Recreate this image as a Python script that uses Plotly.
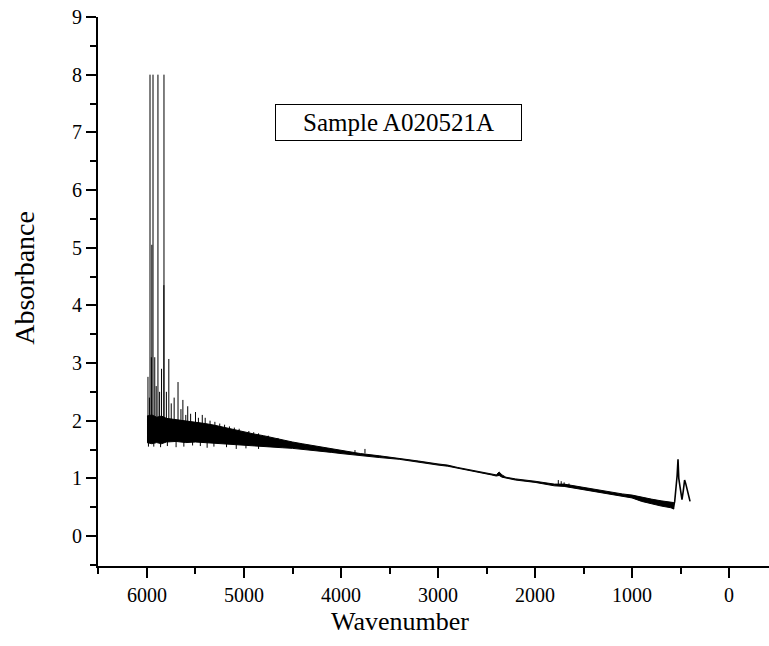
import plotly.graph_objects as go

# ---- data ----
band_wn = [6000, 5950, 5900, 5850, 5800, 5700, 5600, 5500, 5400, 5300,
           5200, 5100, 5000, 4900, 4800, 4700, 4600, 4500, 4400, 4300,
           4200, 4100, 4000, 3800, 3600, 3400, 3200, 3000, 2900, 2800,
           2600, 2450, 2400, 2370, 2340, 2300, 2200, 2000, 1900, 1800,
           1700, 1600, 1500, 1400, 1300, 1200, 1100, 1000, 900, 800,
           700, 600, 570]
band_hi = [2.08, 2.10, 2.06, 2.08, 2.04, 2.02, 2.00, 1.98, 1.95, 1.92,
           1.88, 1.85, 1.81, 1.77, 1.74, 1.70, 1.67, 1.63, 1.60, 1.57,
           1.54, 1.51, 1.48, 1.43, 1.39, 1.35, 1.30, 1.25, 1.23, 1.19,
           1.13, 1.08, 1.06, 1.11, 1.06, 1.02, 0.99, 0.95, 0.92, 0.90,
           0.90, 0.87, 0.84, 0.82, 0.78, 0.76, 0.73, 0.71, 0.67, 0.64,
           0.61, 0.59, 0.58]
band_lo = [1.62, 1.60, 1.62, 1.60, 1.63, 1.64, 1.62, 1.63, 1.62, 1.60,
           1.60, 1.58, 1.57, 1.56, 1.55, 1.54, 1.53, 1.52, 1.50, 1.48,
           1.47, 1.45, 1.43, 1.39, 1.36, 1.33, 1.28, 1.23, 1.21, 1.17,
           1.11, 1.06, 1.04, 1.05, 1.02, 1.00, 0.97, 0.93, 0.90, 0.87,
           0.86, 0.83, 0.80, 0.78, 0.75, 0.72, 0.69, 0.66, 0.60, 0.56,
           0.52, 0.49, 0.47]

spike_wn = [5990, 5975, 5969, 5955, 5950, 5938, 5920, 5905, 5887, 5870,
            5850, 5826, 5825, 5800, 5775, 5750, 5720, 5680, 5650, 5630,
            5600, 5580, 5550, 5500, 5470, 5430, 5400, 5350, 5300, 5250,
            5200, 5150, 5100, 5050, 4950, 4900, 4850, 4750, 4650, 3856,
            3753, 1760, 1730, 1700, 1650,
            5985, 5930, 5860, 5790, 5700, 5620, 5530, 5450, 5380, 5310,
            5180, 5080, 4980, 4850]
spike_lo = [1.70, 1.70, 1.70, 1.70, 1.70, 1.70, 1.70, 1.70, 1.70, 1.70,
            1.70, 1.70, 1.70, 1.70, 1.70, 1.70, 1.70, 1.70, 1.70, 1.70,
            1.70, 1.70, 1.70, 1.70, 1.70, 1.70, 1.70, 1.70, 1.68, 1.66,
            1.64, 1.62, 1.60, 1.60, 1.58, 1.57, 1.56, 1.55, 1.54, 1.45,
            1.43, 0.88, 0.87, 0.87, 0.86,
            1.55, 1.55, 1.54, 1.56, 1.54, 1.55, 1.57, 1.56, 1.53, 1.55,
            1.54, 1.51, 1.52, 1.51]
spike_hi = [2.76, 2.40, 8.00, 3.10, 5.05, 8.00, 3.10, 2.60, 8.00, 2.50,
            2.90, 4.35, 8.00, 2.50, 3.07, 2.30, 2.40, 2.67, 2.20, 2.36,
            2.10, 2.25, 2.12, 2.15, 2.05, 2.10, 2.05, 2.00, 1.98, 1.95,
            1.93, 1.90, 1.88, 1.86, 1.82, 1.80, 1.78, 1.74, 1.70, 1.49,
            1.51, 0.97, 0.95, 0.93, 0.91,
            1.80, 1.80, 1.80, 1.80, 1.80, 1.80, 1.80, 1.80, 1.80, 1.75,
            1.75, 1.70, 1.70, 1.65]

tail_wn = [575, 560, 548, 535, 526, 518, 505, 495, 485, 472, 458, 445, 432, 420, 410, 402]
tail_abs = [0.48, 0.60, 0.80, 1.05, 1.33, 1.00, 0.85, 0.72, 0.63, 0.78, 0.97, 0.90, 0.82, 0.75, 0.68, 0.60]

x_ticks = [6000, 5000, 4000, 3000, 2000, 1000, 0]
y_ticks = [0, 1, 2, 3, 4, 5, 6, 7, 8, 9]

FONT = "'Liberation Serif', 'Times New Roman', Times, serif"

fig = go.Figure()

# noisy envelope of the spectrum
fig.add_trace(go.Scatter(
    x=band_wn + band_wn[::-1],
    y=band_hi + band_lo[::-1],
    fill="toself", fillcolor="black",
    mode="lines", line=dict(color="black", width=1),
    hoverinfo="skip", showlegend=False))

# spikes
sx, sy = [], []
for w, lo, hi in zip(spike_wn, spike_lo, spike_hi):
    sx += [w, w, None]
    sy += [lo, hi, None]
fig.add_trace(go.Scatter(x=sx, y=sy, mode="lines",
                         line=dict(color="black", width=1),
                         showlegend=False, hoverinfo="skip"))

# low-wavenumber tail
fig.add_trace(go.Scatter(x=[band_wn[-1]] + tail_wn, y=[band_lo[-1]] + tail_abs,
                         mode="lines", line=dict(color="black", width=1.6),
                         showlegend=False))

axis_common = dict(
    showline=True, linecolor="black", linewidth=2,
    ticks="outside", ticklen=10, tickwidth=1.5, tickcolor="black",
    showgrid=False, zeroline=False, mirror=False,
    tickfont=dict(family=FONT, size=20, color="black"),
)

fig.update_xaxes(
    range=[6505, -412], tickvals=x_ticks, ticktext=[str(v) for v in x_ticks],
    minor=dict(ticks="outside", ticklen=6, tickwidth=1.5, tickcolor="black",
               dtick=500, tick0=0),
    **axis_common)
fig.update_yaxes(
    range=[-0.52, 9], tickvals=y_ticks, ticktext=[str(v) for v in y_ticks],
    minor=dict(ticks="outside", ticklen=6, tickwidth=1.5, tickcolor="black",
               dtick=0.5, tick0=0),
    **axis_common)

# axis titles
fig.add_annotation(xref="paper", yref="paper", x=0.45, y=-0.102,
                   xanchor="center", yanchor="middle", showarrow=False,
                   text="Wavenumber",
                   font=dict(family=FONT, size=26, color="black"))
fig.add_annotation(xref="paper", yref="paper", x=-0.1088, y=0.525,
                   xanchor="center", yanchor="middle", showarrow=False,
                   text="Absorbance", textangle=-90,
                   font=dict(family=FONT, size=28, color="black"))

fig.add_annotation(
    xref="paper", yref="paper", x=0.448, y=0.842,
    text="Sample A020521A", showarrow=False,
    font=dict(family=FONT, size=25, color="black"),
    bordercolor="black", borderwidth=1, borderpad=0,
    width=245, height=35, bgcolor="white")

fig.update_layout(
    width=769, height=646,
    margin=dict(l=98, r=0, t=17, b=80, autoexpand=False),
    plot_bgcolor="white", paper_bgcolor="white",
    showlegend=False,
)

fig.write_html("out.html")
